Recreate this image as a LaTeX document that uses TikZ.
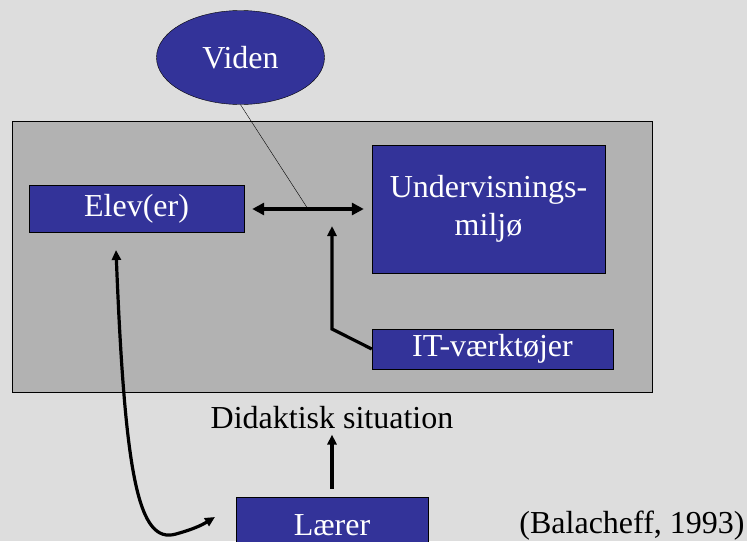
\documentclass[tikz,border=0pt]{standalone}
\usepackage{fontspec}
\setmainfont{Liberation Serif}
\usetikzlibrary{shapes.geometric,positioning,arrows.meta}

\definecolor{slidebg}{HTML}{DDDDDD}
\definecolor{slidegray}{HTML}{B2B2B2}
\definecolor{slideblue}{HTML}{333399}

\begin{document}
\begin{tikzpicture}[
  x=1pt,y=-1pt,
  >={Triangle[length=10pt,width=9pt]},
  every node/.style={font=\fontsize{32}{38}\selectfont,align=center,inner sep=0pt},
  bluebox/.style={rectangle,draw,fill=slideblue,text=white},
  link/.style={line width=3.2pt}
]
  \fill[slidebg] (0,0) rectangle (747,541);
  \useasboundingbox (0,0) rectangle (747,541);

  \node[rectangle,draw,fill=slidegray,minimum width=640pt,minimum height=271pt] (situ) at (332,256.5) {};
  \node[ellipse,draw,fill=slideblue,text=white,minimum width=168pt,minimum height=94pt] (viden) at (240.5,57.5) {Viden};
  \node[bluebox,minimum width=215pt,minimum height=47pt] (elev) at (136.5,209) {Elev(er)};
  \node[bluebox,minimum width=233pt,minimum height=128pt] (miljo) at (488.5,209) {Undervisnings-\\miljø};
  \node[bluebox,minimum width=241pt,minimum height=40pt] (it) at (492.5,349) {IT-værktøjer};
  \node[bluebox,minimum width=192pt,minimum height=56pt] (laerer) at (332,525) {Lærer};
  \node[anchor=base] (didaktisk) at (332,428) {Didaktisk situation};
  \node[anchor=base] (kilde) at (632,533) {(Balacheff, 1993)};

  \coordinate (midt) at (308,209);
  \coordinate (knaek) at (332,329);
  \coordinate (ittip) at (332,226);
  \coordinate (buetop) at (116,250);
  \coordinate (buebund) at (176,534);
  \coordinate (bueende) at (215,517);

  \draw[link,<->,>={Triangle[length=12pt,width=12pt]},shorten <=8pt,shorten >=8pt] (elev.east) -- (miljo.west);
  \draw (viden.south) -- (midt);
  \draw[link,->] (it.west) -- (knaek) -- (ittip);
  \draw[link,->,shorten <=8pt,shorten >=6pt] (laerer.north) -- (didaktisk.south);
  \draw[link,<->] (buetop) .. controls (125,475) and (138,545) .. (buebund) to[bend right=8] (bueende);
\end{tikzpicture}
\end{document}
